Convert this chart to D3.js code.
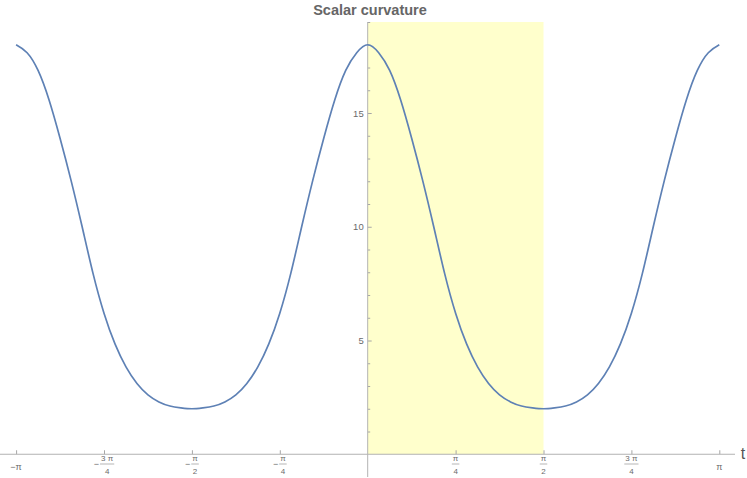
<!DOCTYPE html>
<html><head><meta charset="utf-8">
<script src="https://cdn.jsdelivr.net/npm/d3@7"></script>
<style>body{margin:0;background:#fff}svg{display:block}</style>
</head><body><svg id="c" width="747" height="478"></svg>
<script>
// t = step * π/32
const tSteps = [-32,-31,-30,-29,-28,-27,-26,-25,-24,-23,-22,-21,-20,-19,-18,-17,-16,
  -15,-14,-13,-12,-11,-10,-9,-8,-7,-6,-5,-4,-3,-2,-1,0,
  1,2,3,4,5,6,7,8,9,10,11,12,13,14,15,16,
  17,18,19,20,21,22,23,24,25,26,27,28,29,30,31,32];
const curvature = [18.0,17.65,16.87,15.57,13.89,12.04,10.02,7.95,6.20,4.85,3.84,3.11,2.61,2.30,2.12,2.04,2.0,
  2.04,2.12,2.30,2.61,3.11,3.84,4.85,6.20,7.95,10.02,12.04,13.89,15.57,16.87,17.65,18.0,
  17.65,16.87,15.57,13.89,12.04,10.02,7.95,6.20,4.85,3.84,3.11,2.61,2.30,2.12,2.04,2.0,
  2.04,2.12,2.30,2.61,3.11,3.84,4.85,6.20,7.95,10.02,12.04,13.89,15.57,16.87,17.65,18.0];
const xTickPi = [-1,-0.75,-0.5,-0.25,0.25,0.5,0.75,1];
const xTickSign = ["−","−","−","−","","","",""];
const xTickNum = ["π","3 π","π","π","π","π","3 π","π"];
const xTickDen = ["","4","2","4","4","2","4",""];
const yMajorTicks = [5,10,15];
const yMinorTicks = [1,2,3,4,6,7,8,9,11,12,13,14,16,17,18,19];
const shadePi = [0, 0.5];
const titleText = "Scalar curvature";
const xLabel = "t";

const PI = Math.PI;
const svg = d3.select("#c");
const x = d3.scaleLinear().domain([-PI, PI]).range([16.1, 719.3]);
const y = d3.scaleLinear().domain([-1, 19]).range([477, 22]);
const plotLeft = 0, plotRight = 735;

svg.append("rect").attr("width",747).attr("height",478).attr("fill","#fff");

// shaded region
svg.append("rect")
  .attr("x", x(shadePi[0]*PI)).attr("y", y(19))
  .attr("width", x(shadePi[1]*PI)-x(shadePi[0]*PI))
  .attr("height", y(0)-y(19))
  .attr("fill", "#ffffcc");

const axisColor = "#b3b3b3", tickColor = "#a6a6a6", labelColor = "#6b6b6b";
const font = "'Liberation Sans', Arial, sans-serif";

// x axis
const xAxisG = svg.append("g").attr("transform", `translate(0,${y(0)})`)
  .call(d3.axisBottom(x).tickValues(xTickPi.map(d=>d*PI)).tickSizeInner(-4).tickSizeOuter(0).tickFormat(""));
xAxisG.select(".domain").remove();
xAxisG.selectAll(".tick line").attr("stroke", tickColor);
svg.append("line").attr("x1", plotLeft).attr("x2", plotRight).attr("y1", y(0)).attr("y2", y(0))
  .attr("stroke", axisColor).attr("stroke-width", 1);

// y axis
const yAxisG = svg.append("g").attr("transform", `translate(${x(0)},0)`)
  .call(d3.axisLeft(y).tickValues(yMajorTicks).tickSizeInner(-4).tickSizeOuter(0).tickPadding(4));
yAxisG.select(".domain").remove();
yAxisG.selectAll(".tick line").attr("stroke", tickColor);
yAxisG.selectAll(".tick text").attr("fill", labelColor).attr("font-size", 9.5).attr("font-family", font);
const yMinorG = svg.append("g").attr("transform", `translate(${x(0)},0)`)
  .call(d3.axisLeft(y).tickValues(yMinorTicks).tickSizeInner(-2.5).tickSizeOuter(0).tickFormat(""));
yMinorG.select(".domain").remove();
yMinorG.selectAll(".tick line").attr("stroke", tickColor);
svg.append("line").attr("x1", x(0)).attr("x2", x(0)).attr("y1", y(19)).attr("y2", y(-1))
  .attr("stroke", axisColor).attr("stroke-width", 1);

// x tick labels
xTickPi.forEach((p, i) => {
  const g = svg.append("g").attr("transform", `translate(${x(p*PI)},0)`)
    .attr("fill", labelColor).attr("font-family", font);
  if (!xTickDen[i]) {
    g.append("text").attr("x", 0).attr("y", 469.5).attr("text-anchor","middle")
      .attr("font-size", 9).text(xTickSign[i] + xTickNum[i]);
    return;
  }
  const num = g.append("text").attr("y", 461).attr("text-anchor","middle").attr("font-size", 8).text(xTickNum[i]);
  const den = g.append("text").attr("y", 474).attr("text-anchor","middle").attr("font-size", 8).text(xTickDen[i]);
  const wN = num.node().getComputedTextLength(), wD = den.node().getComputedTextLength();
  const fracW = Math.max(wN, wD) + 2;
  let wS = 0, sign = null;
  if (xTickSign[i]) {
    sign = g.append("text").attr("y", 467).attr("text-anchor","start").attr("font-size", 9).text(xTickSign[i]);
    wS = sign.node().getComputedTextLength() + 1;
  }
  const total = wS + fracW;
  const start = -total/2;
  if (sign) sign.attr("x", start);
  const cx = start + wS + fracW/2;
  num.attr("x", cx); den.attr("x", cx);
  g.append("line").attr("x1", cx - fracW/2).attr("x2", cx + fracW/2)
    .attr("y1", 464).attr("y2", 464).attr("stroke", labelColor).attr("stroke-width", 0.5);
});

// curve
const line = d3.line()
  .x((d,i) => x(tSteps[i]*PI/32))
  .y(d => y(d))
  .curve(d3.curveNatural);
svg.append("path").datum(curvature).attr("d", line)
  .attr("fill","none").attr("stroke","#5e81b5").attr("stroke-width",1.7);

// title
svg.append("text").attr("x", 370).attr("y", 15).attr("text-anchor","middle")
  .attr("font-family", font).attr("font-weight","bold").attr("font-size", 14.5)
  .attr("fill", "#666").text(titleText);

// axis label
svg.append("text").attr("x", 743).attr("y", 459).attr("text-anchor","middle")
  .attr("font-family", font).attr("font-size", 16).attr("fill", "#555").text(xLabel);
</script></body></html>
